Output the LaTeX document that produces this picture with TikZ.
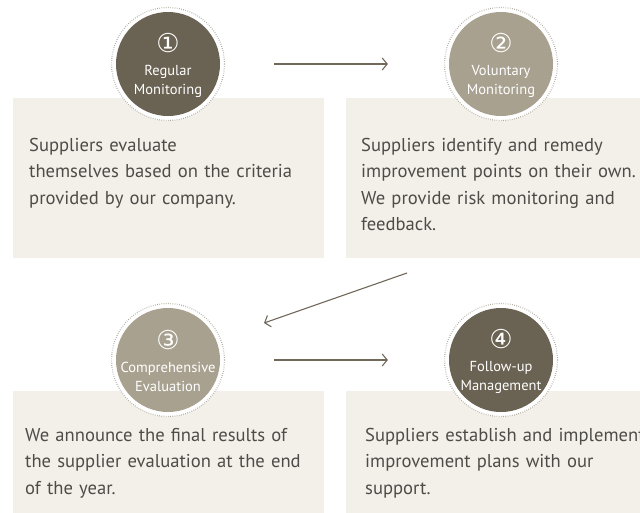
\documentclass[tikz,border=0pt]{standalone}
\usepackage{fontspec}
\setmainfont{PT Sans}
\newfontfamily\numfont{DejaVu Sans}
\definecolor{stepdark}{RGB}{106,98,82}
\definecolor{steplight}{RGB}{168,161,144}
\definecolor{panelbg}{RGB}{243,240,234}
\definecolor{ringgray}{RGB}{170,164,152}
\definecolor{bodygray}{RGB}{78,76,72}
\definecolor{arrowgray}{RGB}{112,104,88}
\usetikzlibrary{arrows.meta,positioning,calc}

\begin{document}
\begin{tikzpicture}[x=1pt,y=-1pt,
        panel/.style={rectangle,fill=panelbg,draw=none,anchor=north west,inner sep=0pt},
        ring/.style={circle,fill=white,draw=ringgray,line width=1.2pt,dash pattern=on 0.6pt off 1.6pt,
              minimum size=113pt,inner sep=0pt},
        disc/.style={circle,minimum size=104pt,inner sep=0pt,text=white,align=center,
              font=\fontsize{14.5}{19}\selectfont},
        desc/.style={anchor=north west,inner sep=0pt,align=left,text=bodygray,text width=320pt,
              font=\fontsize{18.6}{26.5}\selectfont},
        flow/.style={-{Straight Barb[length=5pt,width=12pt]},line width=1.1pt,arrowgray}]

        \useasboundingbox (0,0) rectangle (640,512);
        \clip (0,0) rectangle (640,512);

        % panels
        \node[panel,minimum width=311pt,minimum height=160pt] (b1) at (13,98)  {};
        \node[panel,minimum width=300pt,minimum height=160pt] (b2) at (346,98) {};
        \node[panel,minimum width=311pt,minimum height=130pt] (b3) at (13,391) {};
        \node[panel,minimum width=300pt,minimum height=130pt] (b4) at (346,391) {};

        % rings and discs
        \node[ring] (c1) at (168,64)  {};
        \node[ring] (c2) at (501,64)  {};
        \node[ring] (c3) at (168,360) {};
        \node[ring] (c4) at (501,360) {};

        \node[disc,fill=stepdark]  (d1) at (c1) {};
        \node[disc,fill=steplight] (d2) at (c2) {};
        \node[disc,fill=steplight] (d3) at (c3) {};
        \node[disc,fill=stepdark]  (d4) at (c4) {};

        \node[disc,minimum size=0pt] at ([yshift=-1pt]d1.center) {{\numfont\fontsize{26}{26}\selectfont ①}\\[4pt]Regular\\Monitoring};
        \node[disc,minimum size=0pt] at ([yshift=-1pt]d2.center) {{\numfont\fontsize{26}{26}\selectfont ②}\\[4pt]Voluntary\\Monitoring};
        \node[disc,minimum size=0pt] at ([yshift=-1pt]d3.center) {{\numfont\fontsize{26}{26}\selectfont ③}\\[4pt]Comprehensive\\Evaluation};
        \node[disc,minimum size=0pt] at ([yshift=-1pt]d4.center) {{\numfont\fontsize{26}{26}\selectfont ④}\\[4pt]Follow-up\\Management};

        % texts
        \node[desc] (t1) at (29,138)  {Suppliers evaluate\\themselves based on the criteria\\provided by our company.};
        \node[desc] (t2) at (361,138) {Suppliers identify and remedy\\improvement points on their own.\\We provide risk monitoring and\\feedback.};
        \node[desc] (t3) at (25,428)  {We announce the final results of\\the supplier evaluation at the end\\of the year.};
        \node[desc] (t4) at (365,428) {Suppliers establish and implement\\improvement plans with our\\support.};

        % arrows
        \coordinate (p2) at (407,273);
        \coordinate (p3) at (264,323);
        \draw[flow,shorten <=49pt,shorten >=56pt] (c1) -- (c2);
        \draw[flow] (p2) -- (p3);
        \draw[flow,shorten <=49pt,shorten >=56pt] (c3) -- (c4);

    \end{tikzpicture}
\end{document}
